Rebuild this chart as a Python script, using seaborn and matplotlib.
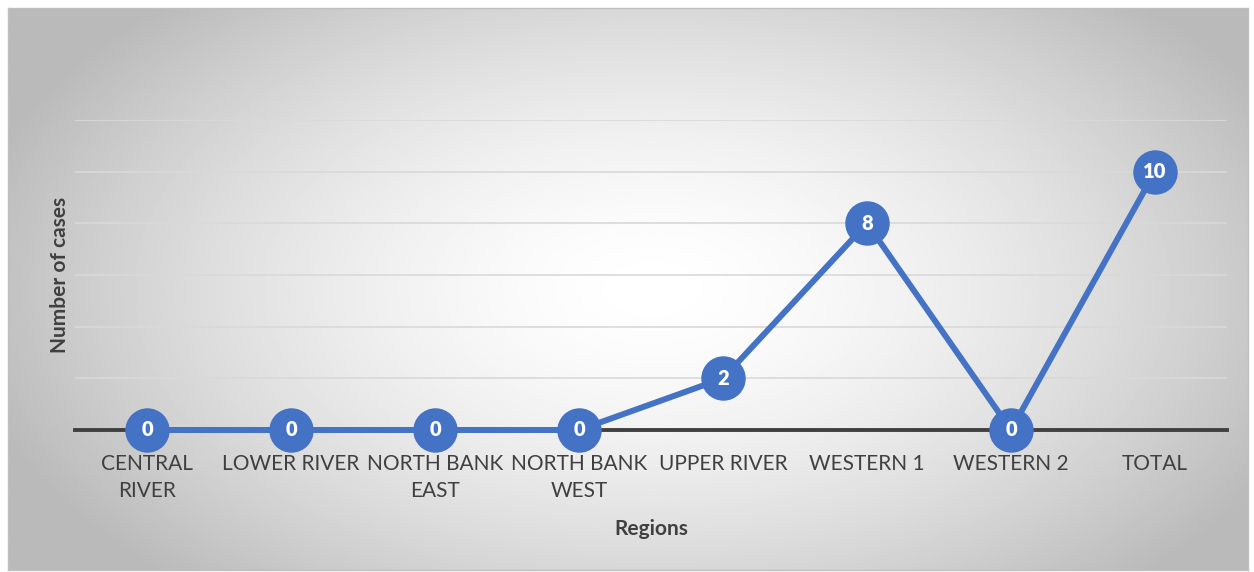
import numpy as np
import pandas as pd
import seaborn as sns
import matplotlib.pyplot as plt

# data
regions = ['CENTRAL\nRIVER', 'LOWER RIVER', 'NORTH BANK\nEAST', 'NORTH BANK\nWEST',
           'UPPER RIVER', 'WESTERN 1', 'WESTERN 2', 'TOTAL']
cases = [0, 0, 0, 0, 2, 8, 0, 10]

df = pd.DataFrame({'region': regions, 'cases': cases})

sns.set_theme(style='white')
plt.rcParams['font.family'] = ['Lato', 'DejaVu Sans']

W, H = 1254, 572
fig = plt.figure(figsize=(W / 100, H / 100), dpi=100)
fig.patch.set_facecolor('white')

# radial gradient background of the chart area
bg = fig.add_axes([8 / W, 2 / H, 1240 / W, 562 / H])
yy, xx = np.mgrid[0:1:300j, 0:1:600j]
d = np.sqrt(((xx - 0.52) / 0.75) ** 2 + ((yy - 0.5) / 0.95) ** 2)
shade = 1 - 0.27 * np.clip(d / 0.75, 0, 1) ** 1.6
bg.imshow(shade, cmap='gray', vmin=0, vmax=1, aspect='auto', extent=[0, 1, 0, 1])
bg.set_xticks([])
bg.set_yticks([])
for s in bg.spines.values():
    s.set_color('#bfbfbf')
    s.set_linewidth(1)

ax = fig.add_axes([75 / W, (H - 430) / H, 1152 / W, 310 / H])
ax.patch.set_alpha(0)

sns.lineplot(data=df, x='region', y='cases', ax=ax, color='#4472c4',
             linewidth=4.3, marker='o', markersize=32, markeredgewidth=0,
             sort=False, zorder=5, clip_on=False)

for i, v in enumerate(cases):
    ax.text(i, v, str(v), ha='center', va='center', color='white',
            fontsize=14.5, fontweight='heavy', zorder=6)

ax.set_xlim(-0.5, len(regions) - 0.5)
ax.set_ylim(0, 12)
ax.set_yticks(range(0, 13, 2))
ax.yaxis.grid(True, color='#d9d9d9', linewidth=1.2)
ax.set_axisbelow(True)
ax.set_yticklabels([])
ax.tick_params(axis='y', length=0)
ax.tick_params(axis='x', length=0, pad=17, labelsize=15, labelcolor='#404040')
for lab in ax.get_xticklabels():
    lab.set_linespacing(1.45)
for s in ['top', 'right', 'left']:
    ax.spines[s].set_visible(False)
ax.spines['bottom'].set_color('#404040')
ax.spines['bottom'].set_linewidth(2.8)
ax.spines['bottom'].set_zorder(4)

ax.set_xlabel('Regions', fontsize=15, fontweight='bold', color='#404040')
ax.xaxis.set_label_coords(0.5, -0.287)
ax.set_ylabel('Number of cases', fontsize=15, fontweight='bold', color='#404040')
ax.yaxis.set_label_coords(-0.004, 0.5)

fig.savefig('out.png', dpi=100)
